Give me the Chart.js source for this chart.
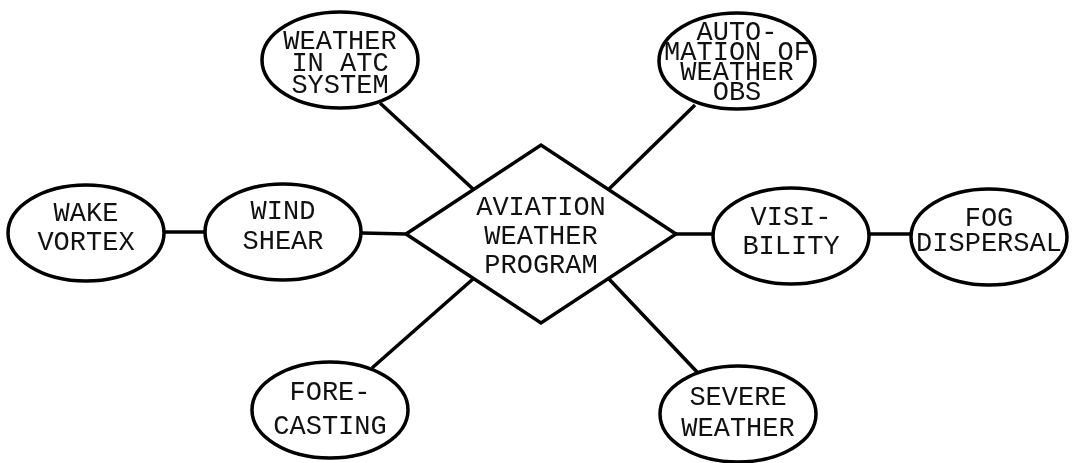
<!DOCTYPE html>
<html>
<head>
<meta charset="utf-8">
<script src="https://cdn.jsdelivr.net/npm/chart.js@4/dist/chart.umd.min.js"></script>
<style>
    html, body { margin: 0; padding: 0; background: #fff; }
    #wrap { width: 1074px; height: 463px; }
</style>
</head>
<body>
<div id="wrap"><canvas id="diagram"></canvas></div>
<script>
// ==================== DATA ====================
// topic bubbles round the program diamond (diagram units = page px)
const nodeLabels = [
    ['WEATHER', 'IN ATC', 'SYSTEM'],
    ['AUTO-', 'MATION OF', 'WEATHER', 'OBS'],
    ['WAKE', 'VORTEX'],
    ['WIND', 'SHEAR'],
    ['VISI-', 'BILITY'],
    ['FOG', 'DISPERSAL'],
    ['FORE-', 'CASTING'],
    ['SEVERE', 'WEATHER']
];
const nodeX = [340, 737, 86, 283, 791, 989, 330, 738];
const nodeY = [60, 61, 233, 232, 236, 237, 410, 414];

const centerLabel = ['AVIATION', 'WEATHER', 'PROGRAM'];
const centerX = 541;
const centerY = 234;
const centerHalfW = 135;
const centerHalfH = 89;

// connector lines: [x1, y1, x2, y2]
const links = [
    [380, 103, 473, 189],
    [695, 105, 609, 189],
    [164, 232, 204, 232],
    [362, 233, 406, 234],
    [676, 234, 713, 234],
    [869, 234, 912, 234],
    [372, 368, 473, 279],
    [698, 373, 609, 279]
];

// ==================== LABEL LAYOUT ====================
const labelShift = [4, 2, -5, -5, -4, -6, 0, -1];
const labelGap = [22, 20, 29, 30, 29, 25, 34, 31];

// ==================== CHART ====================
(function() {
    "use strict";

    const FONT = '27px "Liberation Mono", "Courier New", monospace';
    const RX = 78, RY = 48;

    const datasets = [];

    links.forEach(l => {
        datasets.push({
            data: [{ x: l[0], y: l[1] }, { x: l[2], y: l[3] }],
            showLine: true, borderColor: '#000', borderWidth: 3.5,
            pointRadius: 0, fill: false
        });
    });

    datasets.push({
        data: [
            { x: centerX - centerHalfW, y: centerY },
            { x: centerX, y: centerY - centerHalfH },
            { x: centerX + centerHalfW, y: centerY },
            { x: centerX, y: centerY + centerHalfH },
            { x: centerX - centerHalfW, y: centerY }
        ],
        showLine: true, borderColor: '#000', borderWidth: 3.5,
        borderJoinStyle: 'miter', pointRadius: 0, fill: false
    });

    datasets.push({
        data: nodeX.map((x, i) => ({ x: x, y: nodeY[i] })),
        pointRadius: 0, showLine: false
    });

    function drawLines(ctx, lines, cx, cy, gap) {
        const top = cy - gap * (lines.length - 1) / 2;
        lines.forEach((t, k) => ctx.fillText(t, cx, top + k * gap));
    }

    // ellipses + labels on top of the connectors
    const bubblePlugin = {
        id: 'bubbles',
        afterDatasetsDraw(chart) {
            const ctx = chart.ctx;
            const xs = chart.scales.x, ys = chart.scales.y;
            const rx = Math.abs(xs.getPixelForValue(RX) - xs.getPixelForValue(0));
            const ry = Math.abs(ys.getPixelForValue(RY) - ys.getPixelForValue(0));
            const meta = chart.getDatasetMeta(datasets.length - 1);

            ctx.save();
            ctx.font = FONT;
            ctx.textAlign = 'center';
            ctx.textBaseline = 'middle';
            meta.data.forEach((pt, i) => {
                ctx.beginPath();
                ctx.ellipse(pt.x, pt.y, rx, ry, 0, 0, Math.PI * 2);
                ctx.fillStyle = '#fff';
                ctx.fill();
                ctx.lineWidth = 3.5;
                ctx.strokeStyle = '#000';
                ctx.stroke();

                ctx.fillStyle = '#111';
                drawLines(ctx, nodeLabels[i], pt.x, pt.y + labelShift[i], labelGap[i]);
            });

            ctx.fillStyle = '#111';
            drawLines(ctx, centerLabel, xs.getPixelForValue(centerX), ys.getPixelForValue(centerY) + 3, 29);
            ctx.restore();
        }
    };

    new Chart(document.getElementById('diagram'), {
        type: 'scatter',
        data: { datasets: datasets },
        options: {
            responsive: true,
            maintainAspectRatio: false,
            animation: false,
            layout: { padding: 0 },
            scales: {
                x: { type: 'linear', min: 0, max: 1074, display: false },
                y: { type: 'linear', min: 0, max: 463, reverse: true, display: false }
            },
            plugins: { legend: { display: false }, tooltip: { enabled: false } },
            events: []
        },
        plugins: [bubblePlugin]
    });
})();
</script>
</body>
</html>
